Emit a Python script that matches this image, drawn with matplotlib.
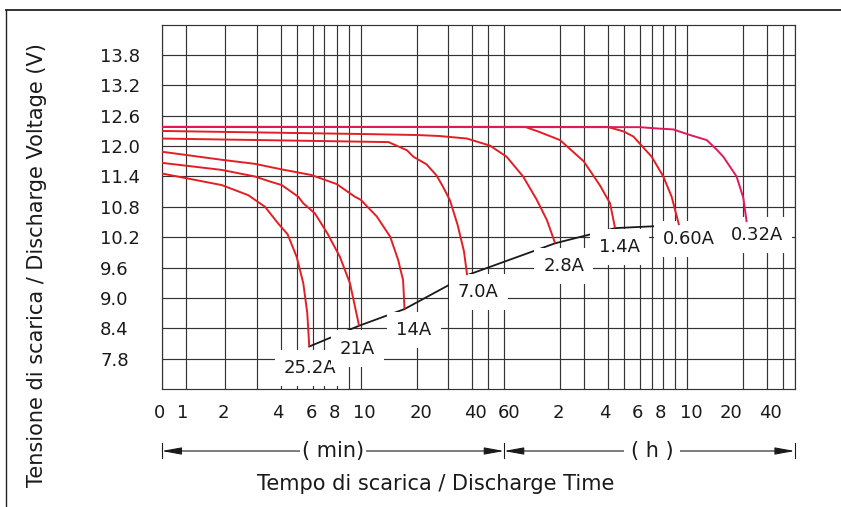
import numpy as np
import matplotlib
matplotlib.use("Agg")
import matplotlib.pyplot as plt
from matplotlib.lines import Line2D
from matplotlib.transforms import ScaledTranslation

# ---------------- data (time in minutes, voltage in V) ----------------
t_252 = [0, 1.89, 2.68, 3.3, 3.88, 4.4, 5.0, 5.39, 5.64, 5.77]
v_252 = [11.46, 11.23, 11.03, 10.80, 10.47, 10.26, 9.81, 9.29, 8.70, 8.04]

t_21 = [0, 1.89, 2.91, 3.51, 4.06, 5.09, 5.39, 6.18, 7.25, 8.26, 9.10, 9.86]
v_21 = [11.67, 11.53, 11.40, 11.30, 11.23, 11.00, 10.87, 10.67, 10.27, 9.81, 9.29, 8.45]

t_14 = [0, 1.89, 2.91, 4.06, 5.9, 8.0, 9.5, 10.0, 12.2, 14.4, 15.9, 16.9, 17.2]
v_14 = [11.89, 11.73, 11.65, 11.54, 11.43, 11.25, 11.00, 10.94, 10.61, 10.21, 9.75, 9.35, 8.78]

t_70 = [0, 14.1, 17.7, 19.2, 22.7, 25.8, 28, 30.6, 33.5, 36.2, 37.6]
v_70 = [12.15, 12.08, 11.92, 11.79, 11.64, 11.42, 11.20, 10.93, 10.45, 9.92, 9.45]

t_28 = [0, 10, 20, 26.8, 37.5, 51, 62, 76, 90, 102, 113]
v_28 = [12.30, 12.24, 12.22, 12.20, 12.15, 12.01, 11.79, 11.40, 10.94, 10.54, 10.08]

t_14h = [0, 78, 93, 120, 180, 219, 248, 266]
v_14h = [12.38, 12.38, 12.28, 12.12, 11.70, 11.22, 10.87, 10.38]

t_060 = [0, 240, 300, 335, 420, 480, 521, 558]
v_060 = [12.38, 12.38, 12.29, 12.19, 11.79, 11.40, 11.00, 10.44]

t_032 = [0, 360, 444, 530, 620, 763, 864, 937, 1059, 1104, 1200, 1272]
v_032 = [12.38, 12.375, 12.35, 12.33, 12.22, 12.12, 11.93, 11.79, 11.50, 11.40, 10.98, 10.50]

curve_labels = ["25.2A", "21A", "14A", "7.0A", "2.8A", "1.4A", "0.60A", "0.32A"]
label_t = [5.82, 9.70, 19.35, 43.5, 128.4, 283, 613, 1512]
label_v = [7.61, 8.00, 8.37, 9.12, 9.63, 10.01, 10.16, 10.24]

y_ticks = [7.8, 8.4, 9.0, 9.6, 10.2, 10.8, 11.4, 12.0, 12.6, 13.2, 13.8]
x_major = [0, 1, 2, 4, 6, 8, 10, 20, 40, 60, 120, 240, 360, 480, 600, 1200, 2400]
x_major_labels = ["0", "1", "2", "4", "6", "8", "10", "20", "40", "60",
                  "2", "4", "6", "8", "10", "20", "40"]
x_minor = [3, 5, 7, 9, 30, 50, 180, 300, 420, 540, 1800, 3000]

# ---------------- scale calibration of the printed (hand-ruled) time grid ----------------
grid_t = np.array([0, 1, 2, 3, 4, 5, 6, 7, 8, 9, 10, 20, 30, 40, 50, 60,
                   120, 180, 240, 300, 360, 420, 480, 540, 600, 1200, 1800, 2400, 3000], float)
grid_u = np.array([161.7, 185.7, 225, 257.3, 280.7, 296.7, 312.7, 324.3, 336.7, 348.7,
                   360.7, 416.7, 448.3, 472.3, 488.3, 504, 560, 583.7, 607.7, 623.7,
                   639.7, 651.7, 663.3, 675.3, 687.3, 743.3, 766.7, 782.7, 794.7])
# small horizontal nudges (pixels) of printed tick labels relative to their grid line
label_nudge_px = [-2, -3, -2, -3, -1, -2, 4, 4, 3, 5, -2, -3, -2, -3, 4, -12.5, -12]


def _g(t):
    t = np.asarray(t, float)
    return np.where(t >= 1, np.log10(np.maximum(t, 1)), t - 1)


def _ginv(u):
    u = np.asarray(u, float)
    return np.where(u >= 0, 10 ** np.clip(u, 0, 10), u + 1)


def forward(t):
    return np.interp(_g(t), _g(grid_t), grid_u)


def inverse(p):
    return _ginv(np.interp(p, grid_u, _g(grid_t)))


# ---------------- figure ----------------
W, H = 841, 507
fig = plt.figure(figsize=(W / 100, H / 100), dpi=100)
fig.patch.set_facecolor("white")
ax = fig.add_axes([161.7 / W, 1 - 389 / H, (794.7 - 161.7) / W, (389 - 24.7) / H])

ax.set_xscale("function", functions=(forward, inverse))
ax.set_xlim(0, 3000)
ax.set_ylim(7.2, 14.4)

grid_color = "#333333"
ax.set_xticks(x_major, x_major_labels)
ax.set_xticks(x_minor, minor=True)
ax.set_yticks(y_ticks, [f"{v:.1f}" for v in y_ticks])
ax.set_axisbelow(True)
ax.grid(True, which="both", axis="both", color=grid_color, lw=0.85)
ax.tick_params(axis="both", which="both", length=0, labelsize=13, colors="#1a1a1a")
ax.tick_params(axis="x", pad=11)
ax.tick_params(axis="y", pad=44.4)
for lab in ax.get_yticklabels():
    lab.set_horizontalalignment("left")
for lab, dx in zip(ax.get_xticklabels(), label_nudge_px):
    lab.set_transform(lab.get_transform() + ScaledTranslation(dx / 100, 0, fig.dpi_scale_trans))
for s in ax.spines.values():
    s.set_color(grid_color)
    s.set_linewidth(0.85)

red = "#E31E24"
pink = "#E2185B"
curves = [(t_252, v_252, red), (t_21, v_21, red), (t_14, v_14, red), (t_70, v_70, red),
          (t_28, v_28, red), (t_14h, v_14h, red), (t_060, v_060, red), (t_032, v_032, pink)]
for t, v, c in curves:
    ax.plot(t, v, color=c, lw=1.4, zorder=5, solid_capstyle="butt", solid_joinstyle="round")

# end-of-discharge line through the curve end points
end_t = [c[0][-1] for c in curves]
end_v = [c[1][-1] for c in curves]
ax.plot(end_t, end_v, color="#1a1a1a", lw=1.3, zorder=2)

for name, tx, vy in zip(curve_labels, label_t, label_v):
    ax.text(tx, vy, name, ha="center", va="center", fontsize=13, color="#1a1a1a", zorder=3,
            bbox=dict(boxstyle="square,pad=0.5", fc="white", ec="none"))

# time-unit arrows under the axis
xtr = ax.get_xaxis_transform()
ya = -0.1702
arrow_kw = dict(arrowstyle="<|-|>,head_length=1.2,head_width=0.22", color="#1a1a1a",
                lw=0.8, shrinkA=0, shrinkB=0, mutation_scale=10)
ax.annotate("", xy=(0, ya), xytext=(60, ya), xycoords=xtr, textcoords=xtr,
            arrowprops=arrow_kw, annotation_clip=False)
ax.annotate("", xy=(60, ya), xytext=(3000, ya), xycoords=xtr, textcoords=xtr,
            arrowprops=arrow_kw, annotation_clip=False)
for xb in (0, 60, 3000):
    ax.plot([xb, xb], [-0.148, -0.190], transform=xtr, color="#1a1a1a", lw=0.8, clip_on=False)
ax.text(0.2706, ya, "( min)", transform=ax.transAxes, ha="center", va="center", fontsize=15,
        color="#1a1a1a", bbox=dict(boxstyle="square,pad=0.1", fc="white", ec="none"), zorder=4)
ax.text(0.7746, ya, "( h )", transform=ax.transAxes, ha="center", va="center", fontsize=15,
        color="#1a1a1a", bbox=dict(boxstyle="square,pad=0.3", fc="white", ec="none"), zorder=4)

fig.text(436 / W, 1 - 484 / H, "Tempo di scarica / Discharge Time", ha="center", va="center",
         fontsize=15, color="#1a1a1a")
fig.text(37 / W, 1 - 265 / H, "Tensione di scarica / Discharge Voltage (V)", ha="center",
         va="center", rotation=90, fontsize=15, color="#1a1a1a")

# outer frame of the original figure
fig.add_artist(Line2D([6 / W, 1], [1 - 10 / H, 1 - 10 / H], transform=fig.transFigure,
                      color="#222222", lw=1.3))
fig.add_artist(Line2D([6 / W, 6 / W], [0, 1 - 10 / H], transform=fig.transFigure,
                      color="#222222", lw=1.0))

fig.savefig("out.png", dpi=100, facecolor="white")
